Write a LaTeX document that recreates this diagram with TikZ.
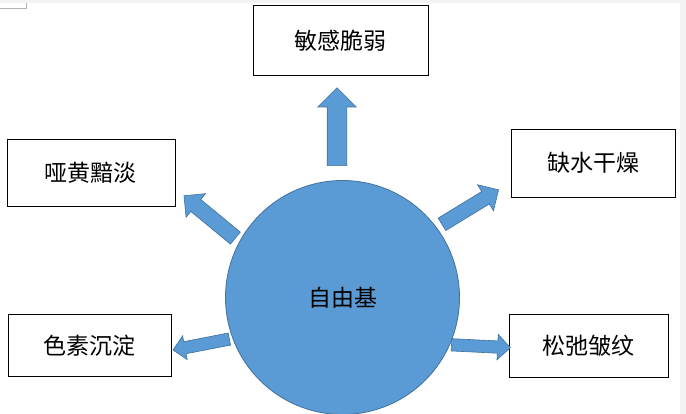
\documentclass[tikz,border=0pt]{standalone}
\usepackage{fontspec}
\setmainfont{Noto Sans CJK SC}
\usepackage{tikz}
\usetikzlibrary{shapes.arrows}
\definecolor{radfill}{RGB}{91,155,213}
\definecolor{raddraw}{RGB}{65,113,156}
\definecolor{pagegray}{RGB}{243,243,243}

\begin{document}
\begin{tikzpicture}[
  x=1pt, y=-1pt,
  font=\fontsize{23}{23}\selectfont,
  box/.style={draw, line width=1pt, inner sep=0pt},
  core/.style={circle, draw=raddraw, line width=0.8pt, fill=radfill,
               minimum size=234pt, inner sep=0pt},
  blk/.style={single arrow, draw=raddraw, line width=0.6pt, fill=radfill,
              inner xsep=0pt, anchor=tail, single arrow tip angle=90}
]
\useasboundingbox (0,0) rectangle (686,414);
% page edge
\fill[pagegray] (0,0) rectangle (686,3);
\fill[pagegray] (680,0) rectangle (686,414);
\draw[gray!60, line width=0.6pt] (0,8.3) -- (26.7,8.3) -- (26.7,3);
% centre
\node[core] (rad) at (342.5,297.5) {自由基};
% effect boxes
\node[box, minimum width=175pt, minimum height=70pt] (sens) at (340.8,40.3) {敏感脆弱};
\node[box, minimum width=168pt, minimum height=67pt] (dull) at (91,172.7) {哑黄黯淡};
\node[box, minimum width=164pt, minimum height=68pt] (dry) at (593.2,163.2) {缺水干燥};
\node[box, minimum width=163pt, minimum height=62pt] (pig) at (89.6,345.3) {色素沉淀};
\node[box, minimum width=159pt, minimum height=63pt] (wrin) at (588.8,345.7) {松弛皱纹};
% block arrows
\node[blk, rotate=90, minimum height=78pt, inner ysep=9.5pt,
      single arrow head extend=9.5pt] (arrUp) at (337,166) {};
\node[blk, rotate=140.5, minimum height=66.6pt, inner ysep=7.5pt,
      single arrow head extend=7.5pt] (arrUL) at (235.6,238.3) {};
\node[blk, rotate=31.4, minimum height=66.3pt, inner ysep=7pt,
      single arrow head extend=8pt] (arrUR) at (441.7,224.5) {};
\node[blk, rotate=191, minimum height=57.4pt, inner ysep=5.85pt,
      single arrow head extend=5.9pt] (arrLL) at (229.7,339) {};
\node[blk, rotate=-2.8, minimum height=58.9pt, inner ysep=5.85pt,
      single arrow head extend=6.6pt] (arrLR) at (451.2,344.8) {};
\end{tikzpicture}
\end{document}
